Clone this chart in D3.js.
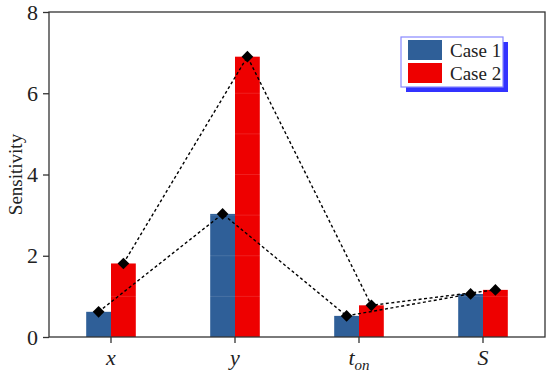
<!DOCTYPE html>
<html>
<head>
<meta charset="utf-8">
<script src="https://cdn.jsdelivr.net/npm/d3@7"></script>
<style>
  body { margin: 0; background: #fff; }
  svg text { font-family: "Liberation Serif", "Times New Roman", serif; }
</style>
</head>
<body>
<div id="chart"></div>
<script>
const width = 550
const height = 380
const serif = "Liberation Serif"

// Dados
const categories = ["x", "y", "t_on", "S"]
const case1 = [0.62, 3.03, 0.52, 1.06]
const case2 = [1.81, 6.9, 0.78, 1.16]
const yTicks = [0, 2, 4, 6, 8]
const seriesNames = ["Case 1", "Case 2"]
const colors = ["#2F5F98", "#EE0000"]

const margin = { top: 12, right: 5, bottom: 43, left: 49 }

let svg = d3.select("#chart")
  .append("svg")
  .attr("width", width)
  .attr("height", height)

// Escalas
const x = d3.scaleBand()
  .domain(categories)
  .range([margin.left, width - margin.right])
  .paddingInner(0)

const y = d3.scaleLinear()
  .domain([0, 8])
  .range([height - margin.bottom, margin.top])

const barW = x.bandwidth() * 0.2
const cx = (c, i) => x(c) + x.bandwidth() / 2 + (i === 0 ? -barW / 2 : barW / 2)

// Barras
const series = [case1, case2]
series.forEach((vals, i) => {
  svg.selectAll(".bar" + i)
    .data(categories)
    .enter()
    .append("rect")
    .attr("class", "bar" + i)
    .attr("x", c => x(c) + x.bandwidth() / 2 - (i === 0 ? barW : 0))
    .attr("width", barW)
    .attr("y", (c, j) => y(vals[j]))
    .attr("height", (c, j) => y(0) - y(vals[j]))
    .style("fill", colors[i])
})

// linhas de grade claras (só aparecem nas barras)
svg.selectAll(".grid")
  .data(d3.range(1, 8))
  .enter()
  .append("line")
  .attr("x1", margin.left)
  .attr("x2", width - margin.right)
  .attr("y1", d => y(d))
  .attr("y2", d => y(d))
  .style("stroke", "#fff")
  .style("stroke-opacity", 0.12)

// Linhas tracejadas
const line = d3.line()
  .x(d => d[0])
  .y(d => d[1])

series.forEach((vals, i) => {
  const pts = categories.map((c, j) => [cx(c, i), y(vals[j])])
  svg.append("path")
    .datum(pts)
    .attr("d", line)
    .style("fill", "none")
    .style("stroke", "#000")
    .style("stroke-width", 1.4)
    .style("stroke-dasharray", "3,2.5")

  svg.selectAll(".mk" + i)
    .data(pts)
    .enter()
    .append("path")
    .attr("d", d3.symbol().type(d3.symbolSquare).size(68))
    .attr("transform", d => "translate(" + d[0] + "," + d[1] + ") rotate(45)")
    .style("fill", "#000")
})

// Eixos
const yAxis = d3.axisLeft(y).tickValues(yTicks).tickSize(6).tickPadding(5)
svg.append("g")
  .attr("transform", "translate(" + margin.left + ",0)")
  .call(yAxis)
  .call(g => g.select(".domain").remove())
  .selectAll("text")
  .style("font-family", serif)
  .style("font-size", "22px")
  .attr("fill", "#222")

const xAxis = d3.axisBottom(x).tickSize(6).tickFormat("")
svg.append("g")
  .attr("transform", "translate(0," + y(0) + ")")
  .call(xAxis)
  .call(g => g.select(".domain").remove())

svg.selectAll("g .tick line").style("stroke", "#333").style("stroke-width", 1.3)

// Moldura
svg.append("rect")
  .attr("x", margin.left)
  .attr("y", margin.top)
  .attr("width", width - margin.right - margin.left)
  .attr("height", y(0) - margin.top)
  .style("fill", "none")
  .style("stroke", "#333")
  .style("stroke-width", 1.3)

// Rótulos do eixo x (itálico, com subscrito)
categories.forEach(c => {
  const t = svg.append("text")
    .attr("x", x(c) + x.bandwidth() / 2)
    .attr("y", y(0) + 28)
    .attr("text-anchor", "middle")
    .style("font-family", serif)
    .style("font-size", "22px")
    .style("font-style", "italic")
    .attr("fill", "#222")
  if (c.indexOf("_") > 0) {
    const parts = c.split("_")
    t.append("tspan").text(parts[0])
    t.append("tspan").attr("dy", 5).style("font-size", "15px").text(parts[1])
  } else {
    t.text(c)
  }
})

// Titulo do eixo y
svg.append("text")
  .attr("transform", "translate(22," + (margin.top + (y(0) - margin.top) / 2) + ") rotate(-90)")
  .attr("text-anchor", "middle")
  .style("font-family", serif)
  .style("font-size", "19px")
  .attr("fill", "#222")
  .text("Sensitivity")

// Legenda
const lg = svg.append("g").attr("transform", "translate(401,37)")
lg.append("rect")
  .attr("x", 5).attr("y", 5).attr("width", 102).attr("height", 50)
  .style("fill", "#3333ff")
lg.append("rect")
  .attr("x", 0).attr("y", 0).attr("width", 102).attr("height", 50)
  .style("fill", "#fff")
  .style("stroke", "#8888ff")
  .style("stroke-width", 1.2)
seriesNames.forEach((n, i) => {
  lg.append("rect")
    .attr("x", 7).attr("y", 3 + i * 23).attr("width", 34).attr("height", 20)
    .style("fill", colors[i])
  lg.append("text")
    .attr("x", 49).attr("y", 20 + i * 23)
    .style("font-family", serif)
    .style("font-size", "19px")
    .attr("fill", "#222")
    .text(n)
})
</script>
</body>
</html>
